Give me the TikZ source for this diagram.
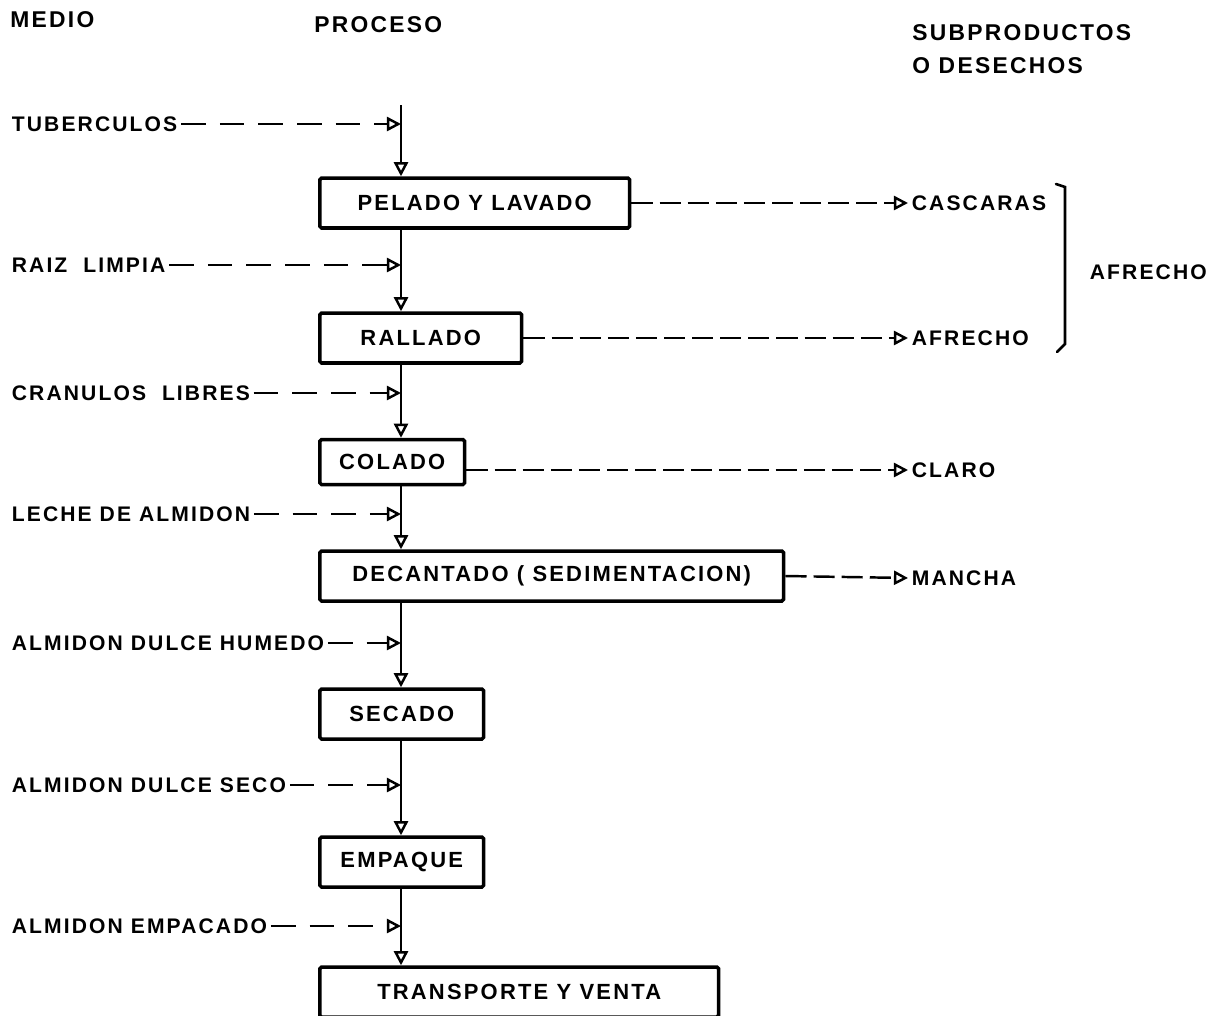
\documentclass[tikz,border=0pt]{standalone}
\usepackage{fontspec}
\setmainfont{Liberation Sans}
\newfontfamily\flowfont[LetterSpace=10]{Liberation Sans}
\usetikzlibrary{arrows.meta}

\tikzset{
  proc/.style={draw, line width=2pt, rounded corners=1pt, anchor=west, inner sep=0pt,
    minimum height=1cm, font=\flowfont\bfseries\fontsize{12.5}{14}\selectfont},
  lbl/.style={anchor=west, inner sep=2pt, font=\flowfont\bfseries\fontsize{12}{14}\selectfont},
  head/.style={anchor=west, inner sep=0pt, font=\flowfont\bfseries\fontsize{13}{15}\selectfont},
  flow/.style={line width=1.4pt, -{Triangle[open,length=8pt,width=8pt]}},
  feed/.style={flow, dash pattern=on 14pt off 8pt},
  waste/.style={flow, dash pattern=on 12pt off 4pt},
}

\begin{document}
\begin{tikzpicture}[x=0.02cm, y=-0.02cm]
  \useasboundingbox (0,0) rectangle (1213,1015);

  % headers
  \node[head] (hmed) at (10,20) {MEDIO};
  \node[head] (hpro) at (314,25) {PROCESO};
  \node[head] (hsub) at (912,33) {SUBPRODUCTOS};
  \node[head] (hdes) at (912,66) {O DESECHOS};

  % process boxes
  \node[proc, minimum width=6.2cm] (pel) at (318,203) {PELADO Y LAVADO};
  \node[proc, minimum width=4.04cm] (ral) at (318,338) {RALLADO};
  \node[proc, minimum width=2.9cm, minimum height=0.9cm] (col) at (318,462) {COLADO};
  \node[proc, minimum width=9.28cm] (dec) at (318,576) {DECANTADO ( SEDIMENTACION)};
  \node[proc, minimum width=3.28cm] (sec) at (318,714) {SECADO};
  \node[proc, minimum width=3.28cm] (emp) at (318,862) {EMPAQUE};
  \node[proc, minimum width=7.98cm] (tra) at (318,992) {TRANSPORTE Y VENTA};

  % medio
  \node[lbl] (tub) at (8,124) {TUBERCULOS};
  \node[lbl] (rai) at (8,265) {RAIZ\ \ LIMPIA};
  \node[lbl] (cra) at (8,393) {CRANULOS\ \ LIBRES};
  \node[lbl] (lec) at (8,514) {LECHE DE ALMIDON};
  \node[lbl] (hum) at (8,643) {ALMIDON DULCE HUMEDO};
  \node[lbl] (sco) at (8,785) {ALMIDON DULCE SECO};
  \node[lbl] (epc) at (8,926) {ALMIDON EMPACADO};

  % subproductos
  \node[lbl] (cas) at (908,203) {CASCARAS};
  \node[lbl] (afr) at (908,338) {AFRECHO};
  \node[lbl] (cla) at (908,470) {CLARO};
  \node[lbl] (man) at (908,578) {MANCHA};
  \node[lbl] (tot) at (1086,272) {AFRECHO};

  % main line
  \coordinate (top) at (401,105);
  \draw[flow] (top) -- (top |- pel.north);
  \draw[flow] (pel.south -| top) -- (top |- ral.north);
  \draw[flow] (ral.south -| top) -- (top |- col.north);
  \draw[flow] (col.south -| top) -- (top |- dec.north);
  \draw[flow] (dec.south -| top) -- (top |- sec.north);
  \draw[flow] (sec.south -| top) -- (top |- emp.north);
  \draw[flow] (emp.south -| top) -- (top |- tra.north);

  % inputs
  \foreach \m in {tub,rai,cra,lec,hum,sco,epc}
    \draw[feed] (\m.east) -- (\m -| top);

  % outputs
  \draw[waste] (pel.east) -- (cas.west);
  \draw[waste] (ral.east) -- (afr.west);
  \draw[waste] (col.east |- cla) -- (cla.west);
  \draw[waste] (dec.east) -- (man.west);

  % bracket
  \draw[line width=1.5pt, line cap=round] (1056,184) -- (1065,187) -- (1065,344) -- (1057,352);
\end{tikzpicture}
\end{document}
